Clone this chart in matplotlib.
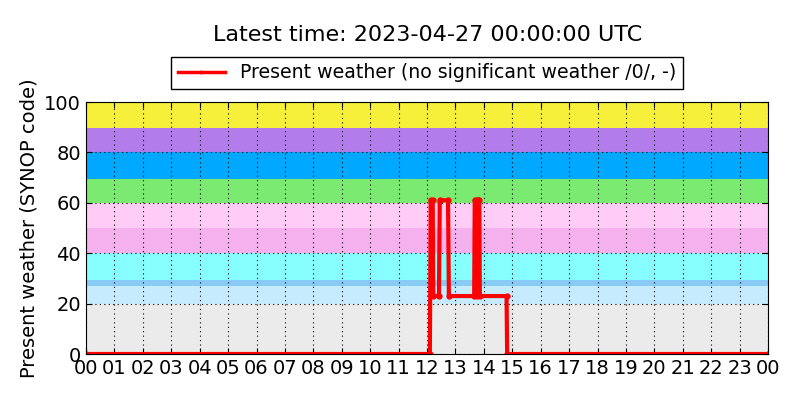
import matplotlib
matplotlib.use("Agg")
import matplotlib.pyplot as plt

# ─── data ───────────────────────────────────────────────────────────────────

TITLE = "Latest time: 2023-04-27 00:00:00 UTC"
SERIES_LABEL = "Present weather (no significant weather /0/, -)"

# hours since 00 UTC and SYNOP present-weather code at each change point
hours = [0.0, 12.10, 12.13, 12.20, 12.22, 12.42, 12.45, 12.74, 12.77,
         13.66, 13.68, 13.76, 13.77, 13.78, 13.84, 13.86, 14.80, 14.82, 24.0]
codes = [0, 0, 61, 61, 23, 23, 61, 61, 23,
         23, 61, 61, 23, 61, 61, 23, 23, 0, 0]

# background code bands (lower, upper, colour)
band_lo = [0, 20, 26.8, 29.5, 40, 50, 60, 69.5, 80, 89.5]
band_hi = [20, 26.8, 29.5, 40, 50, 60, 69.5, 80, 89.5, 100]
band_col = ["#ebebeb", "#c6ebff", "#88ccf5", "#88ffff", "#f5b0ee",
            "#ffccf5", "#7aeb70", "#00a8ff", "#b27deb", "#f7f03a"]

hour_ticks = list(range(0, 25))
hour_labels = ["%02d" % (h % 24) for h in hour_ticks]
y_ticks = [0, 20, 40, 60, 80, 100]

# ─── figure ─────────────────────────────────────────────────────────────────

fig = plt.figure(figsize=(8, 4), dpi=100, facecolor="white")
ax = fig.add_axes([0.1075, 0.115, 0.8525, 0.63])

for lo, hi, c in zip(band_lo, band_hi, band_col):
    ax.axhspan(lo, hi, color=c, lw=0, zorder=0)

ax.plot(hours, codes, color="red", lw=3, marker=".", markersize=7,
        label=SERIES_LABEL, zorder=3)

ax.set_xlim(0, 24)
ax.set_ylim(0, 100)
ax.set_xticks(hour_ticks)
ax.set_xticklabels(hour_labels)
ax.set_yticks(y_ticks)
ax.tick_params(direction="in", top=True, right=True, labelsize=14, length=4)
ax.grid(True, color="black", linestyle=(0, (1, 3)), linewidth=0.8, zorder=1)
ax.set_axisbelow(False)
for sp in ax.spines.values():
    sp.set_zorder(4)

ax.set_ylabel("Present weather (SYNOP code)", fontsize=14)
fig.text(0.534, 0.912, TITLE, ha="center", va="center", fontsize=16)

leg = ax.legend(loc="lower center", bbox_to_anchor=(0.5, 1.015), fontsize=13.6,
                fancybox=False, edgecolor="black", framealpha=1,
                handlelength=2.5, borderpad=0.35, markerscale=0.5)
leg.get_frame().set_linewidth(1.0)
leg.get_lines()[0].set_linewidth(2.5)

fig.savefig("out.png", dpi=100, facecolor="white")
